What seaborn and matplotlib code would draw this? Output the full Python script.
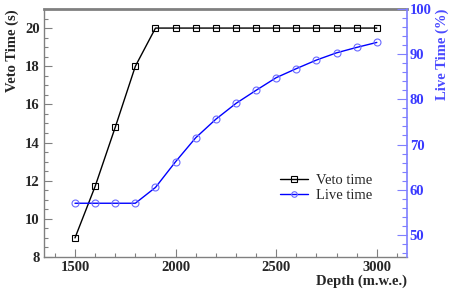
import matplotlib
matplotlib.use('Agg')
import matplotlib.pyplot as plt
from matplotlib.ticker import MultipleLocator
from matplotlib.lines import Line2D
import seaborn as sns

# values
depth = [1500, 1600, 1700, 1800, 1900, 2000, 2100, 2200, 2300, 2400, 2500, 2600, 2700, 2800, 2900, 3000]
veto_time = [9.0, 11.7, 14.8, 18.0, 20, 20, 20, 20, 20, 20, 20, 20, 20, 20, 20, 20]
live_time = [57.0, 57.0, 57.0, 57.0, 60.5, 66.2, 71.5, 75.6, 79.1, 82.0, 84.8, 86.8, 88.7, 90.3, 91.5, 92.6]

sns.set_style('ticks')
plt.rcParams['font.family'] = ['Liberation Serif', 'DejaVu Serif']
plt.rcParams['font.weight'] = 'bold'

fig = plt.figure(figsize=(4.52, 2.89), dpi=100)
ax = fig.add_axes([44 / 452, 1 - 257 / 289, (407 - 44) / 452, (257 - 9) / 289])
ax2 = ax.twinx()

grey = '#808080'
axis_blue = '#7f7fff'
text_blue = '#3a3aff'

sns.lineplot(x=depth, y=veto_time, ax=ax, color='black', lw=1.0, marker='s', markersize=5,
             markerfacecolor='none', markeredgecolor='black', markeredgewidth=0.8)
sns.lineplot(x=depth, y=live_time, ax=ax2, color='#0000ff', lw=1.0, marker='o', markersize=5,
             markerfacecolor='none', markeredgecolor='#6a6aff', markeredgewidth=0.8)

ax.set_xlim(1346, 3150)
ax.set_ylim(8, 21)
ax2.set_ylim(45.1, 100)

ax.xaxis.set_major_locator(MultipleLocator(500))
ax.xaxis.set_minor_locator(MultipleLocator(100))
ax.yaxis.set_major_locator(MultipleLocator(2))
ax.yaxis.set_minor_locator(MultipleLocator(0.5))
ax2.yaxis.set_major_locator(MultipleLocator(10))
ax2.yaxis.set_minor_locator(MultipleLocator(2))

for sp in ['left', 'bottom']:
    ax.spines[sp].set_color(grey)
    ax.spines[sp].set_linewidth(1.0)
ax.spines['top'].set_color(grey)
ax.spines['top'].set_linewidth(2.0)
ax.spines['right'].set_visible(False)
ax2.spines['top'].set_visible(False)
ax2.spines['left'].set_visible(False)
ax2.spines['bottom'].set_visible(False)
ax2.spines['right'].set_color(axis_blue)
ax2.spines['right'].set_linewidth(1.2)

ax.tick_params(axis='both', which='major', direction='in', length=5.5, width=0.8, color=grey,
               labelsize=10.5, pad=3)
ax.tick_params(axis='both', which='minor', direction='in', length=3, width=0.8, color=grey)
ax2.tick_params(axis='y', which='major', direction='in', length=7.5, width=0.8, color=axis_blue,
                labelcolor=text_blue, labelsize=10.5, pad=2)
ax2.tick_params(axis='y', which='minor', direction='in', length=3.6, width=0.8, color=axis_blue)

for lab in ax.get_xticklabels() + ax.get_yticklabels() + ax2.get_yticklabels():
    lab.set_fontweight('bold')

ax.set_xlabel('')
ax.set_ylabel('')
ax2.set_ylabel('')
fig.text(12.5 / 452, 1 - 9 / 289, 'Veto Time (s)', rotation=90, ha='center', va='top',
         fontsize=10.5, fontweight='bold')
fig.text(442 / 452, 1 - 9 / 289, 'Live Time (%)', rotation=90, ha='center', va='top',
         fontsize=10.5, fontweight='bold', color='#4a4aff')
fig.text(407 / 452, 1 - 288 / 289, 'Depth (m.w.e.)', ha='right', va='bottom',
         fontsize=10.5, fontweight='bold')

handles = [
    Line2D([], [], color='black', lw=1.0, marker='s', markersize=4, markerfacecolor='none',
           markeredgecolor='black', markeredgewidth=0.8),
    Line2D([], [], color='#0000ff', lw=1.0, marker='o', markersize=4, markerfacecolor='none',
           markeredgecolor='#6a6aff', markeredgewidth=0.8),
]
leg = ax2.legend(handles, ['Veto time', 'Live time'], loc='center left',
                 bbox_to_anchor=(280 / 452, 1 - 188 / 289), bbox_transform=fig.transFigure,
                 frameon=False, borderpad=0, borderaxespad=0, handlelength=1.9,
                 handletextpad=0.6, labelspacing=0.15, prop={'family': 'Liberation Serif',
                                                             'weight': 'normal', 'size': 10.5})

fig.savefig('out.png', dpi=100)
